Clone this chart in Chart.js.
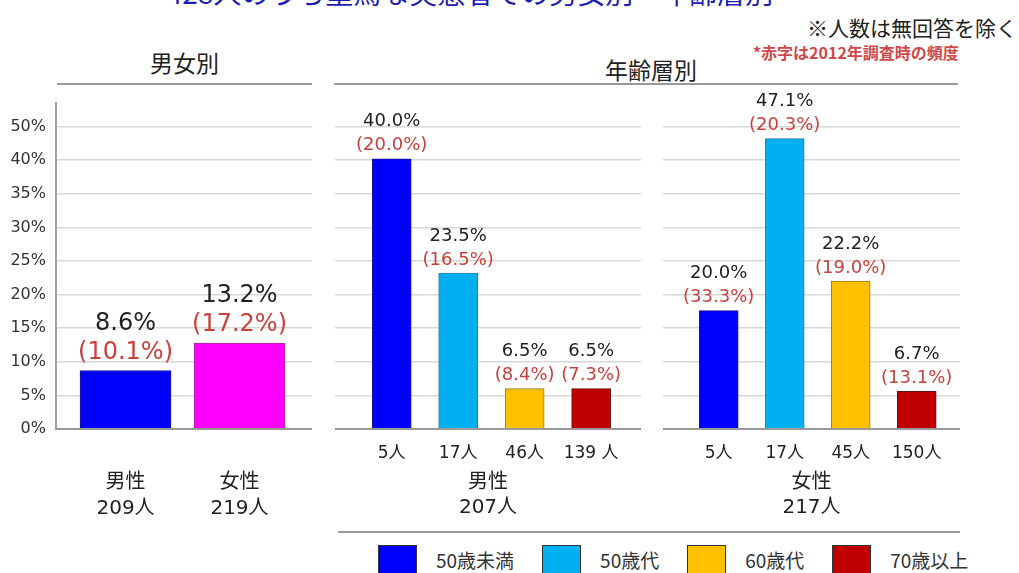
<!DOCTYPE html>
<html lang="ja">
<head>
<meta charset="utf-8">
<script src="https://cdn.jsdelivr.net/npm/chart.js"></script>
<style>
html, body { margin:0; padding:0; background:#fff; }
#page { position:relative; width:1019px; height:573px; overflow:hidden; font-family:"DejaVu Sans","Noto Sans CJK JP",sans-serif; color:#222; }
.t { position:absolute; white-space:nowrap; font-family:"Noto Sans CJK JP",sans-serif; }
.rule { position:absolute; height:2px; background:#9a9a9a; }
canvas { position:absolute; }
#legend { position:absolute; left:378px; top:545px; display:flex; align-items:flex-start; }
#legend .sw { width:37px; height:30px; border:1px solid #333; }
#legend .lb { margin-left:19px; margin-right:28px; margin-top:2px; font-size:19px; line-height:26px; color:#333; font-family:"Noto Sans CJK JP",sans-serif; }
</style>
</head>
<body>
<div id="page">
  <div class="t" style="left:150px; width:640px; text-align:center; top:-23px; font-size:28px; line-height:30px; color:#1c1cb4;">428人のうち重篤な実態者での男女別・年齢層別</div>
  <div class="t" style="right:2px; top:13px; font-size:21px; line-height:28px; color:#222;">※人数は無回答を除く</div>
  <div class="t" style="left:753px; top:42px; font-size:16px; line-height:20px; font-weight:bold; color:#d04848;">*赤字は2012年調査時の頻度</div>

  <div class="t" style="left:57px; width:255px; text-align:center; top:47px; font-size:23px; line-height:30px;">男女別</div>
  <div class="t" style="left:334px; width:634px; text-align:center; top:54px; font-size:23px; line-height:30px;">年齢層別</div>
  <div class="rule" style="left:57px; width:255px; top:83px;"></div>
  <div class="rule" style="left:334px; width:624px; top:83px;"></div>
  <div class="rule" style="left:338px; width:622px; top:531px;"></div>

  <canvas id="chartSex" width="312" height="446" style="left:0px; top:83px;"></canvas>
  <canvas id="chartMale" width="306" height="446" style="left:335px; top:83px;"></canvas>
  <canvas id="chartFemale" width="297" height="446" style="left:663px; top:83px;"></canvas>

  <div id="legend"></div>
</div>

<script>
// y-axis: the top label in the original reads 50% although it sits on the 45% line
const yTicks = [0, 5, 10, 15, 20, 25, 30, 35, 40, 45];
const yTickLabels = ['0%', '5%', '10%', '15%', '20%', '25%', '30%', '35%', '40%', '50%'];

// 男女別
const sexCats = [['男性', '209人'], ['女性', '219人']];
const sexBars = [8.7, 12.8];          // bar heights as drawn
const sexNow = [8.6, 13.2];           // printed values
const sexPast = [10.1, 17.2];         // 2012 values (red)

// 年齢層別
const ageGroups = ['50歳未満', '50歳代', '60歳代', '70歳以上'];
const ageColors = ['#0000ff', '#00b0f0', '#ffc000', '#c00000'];
const ageBorders = ['#1a1a8c', '#2a7fa8', '#9a7a20', '#601010'];

const maleCats = ['5人', '17人', '46人', '139 人'];
const maleBars = [40.2, 23.2, 6.0, 6.0];
const maleNow = [40.0, 23.5, 6.5, 6.5];
const malePast = [20.0, 16.5, 8.4, 7.3];

const femaleCats = ['5人', '17人', '45人', '150人'];
const femaleBars = [17.6, 43.2, 22.0, 5.6];   // the source draws these shorter than printed
const femaleNow = [20.0, 47.1, 22.2, 6.7];
const femalePast = [33.3, 20.3, 19.0, 13.1];

// labels above each bar: value and (2012 value)
const barLabels = {
  id: 'barLabels',
  afterDatasetsDraw(chart, args, o) {
    const ctx = chart.ctx;
    const meta = chart.getDatasetMeta(0);
    ctx.save();
    ctx.font = o.size + 'px "DejaVu Sans", "Noto Sans CJK JP"';
    ctx.textAlign = 'center';
    ctx.textBaseline = 'middle';
    meta.data.forEach(function(bar, i) {
      ctx.fillStyle = '#222';
      ctx.fillText(o.now[i].toFixed(1) + '%', bar.x, bar.y - o.upper);
      ctx.fillStyle = '#c8413c';
      ctx.fillText('(' + o.past[i].toFixed(1) + '%)', bar.x, bar.y - o.lower);
    });
    ctx.restore();
  }
};

function createChart(id, p) {
  const xs = p.bars.map((v, i) => i + 1);
  const config = {
    type: 'bar',
    data: {
      datasets: [{
        data: p.bars.map((v, i) => ({ x: xs[i], y: v })),
        backgroundColor: p.colors,
        borderColor: p.borders,
        borderWidth: 1,
        barThickness: p.thickness
      }]
    },
    options: {
      responsive: false,
      animation: false,
      layout: { padding: { top: 20, left: 0, right: 0, bottom: 0 } },
      scales: {
        x: {
          type: 'linear',
          min: p.xMin,
          max: p.xMax,
          offset: false,
          afterBuildTicks: function(s) { s.ticks = xs.map(v => ({ value: v })); },
          afterFit: function(s) { s.height = 100; },
          grid: { display: false, drawTicks: false, offset: false },
          border: { display: true, color: '#9a9a9a', width: 2 },
          ticks: {
            autoSkip: false,
            maxRotation: 0,
            padding: p.tickPadding,
            color: '#222',
            font: { family: '"DejaVu Sans", "Noto Sans CJK JP"', size: p.tickSize, lineHeight: 1.3 },
            callback: function(v, i) { return p.cats[i]; }
          },
          title: {
            display: !!p.title,
            text: p.title,
            color: '#222',
            font: { family: '"DejaVu Sans", "Noto Sans CJK JP"', size: 20, lineHeight: 1.25 },
            padding: { top: 0, bottom: 8.5 }
          }
        },
        y: {
          min: 0,
          max: 48.5,
          afterBuildTicks: function(s) { s.ticks = yTicks.map(v => ({ value: v })); },
          afterFit: function(s) { s.width = p.showY ? 56 : 0; },
          grid: {
            drawTicks: false,
            color: c => (c.tick && c.tick.value === 0) ? '#9a9a9a' : '#d9d9d9',
            lineWidth: c => (c.tick && c.tick.value === 0) ? 2 : 1.5
          },
          border: { display: p.showY, color: '#a0a0a0', width: 2 },
          ticks: {
            display: p.showY,
            padding: 10,
            color: '#333',
            font: { family: '"DejaVu Sans"', size: 16 },
            callback: function(v, i) { return yTickLabels[i]; }
          }
        }
      },
      plugins: {
        legend: { display: false },
        tooltip: { enabled: false },
        barLabels: { now: p.now, past: p.past, size: p.labelSize, upper: p.upper, lower: p.lower }
      }
    },
    plugins: [barLabels]
  };
  return new Chart(document.getElementById(id), config);
}

createChart('chartSex', {
  bars: sexBars, now: sexNow, past: sexPast, cats: sexCats,
  colors: ['#0000ff', '#ff00ff'], borders: ['#1a1a8c', '#a030a0'],
  thickness: 91, xMin: 0.39, xMax: 2.636, showY: true,
  tickSize: 20, tickPadding: 41, title: '',
  labelSize: 24, upper: 47, lower: 18
});

createChart('chartMale', {
  bars: maleBars, now: maleNow, past: malePast, cats: maleCats,
  colors: ageColors, borders: ageBorders,
  thickness: 39, xMin: 0.147, xMax: 4.75, showY: false,
  tickSize: 17, tickPadding: 14, title: ['男性', '207人'],
  labelSize: 18, upper: 37, lower: 13
});

createChart('chartFemale', {
  bars: femaleBars, now: femaleNow, past: femalePast, cats: femaleCats,
  colors: ageColors, borders: ageBorders,
  thickness: 39, xMin: 0.156, xMax: 4.656, showY: false,
  tickSize: 17, tickPadding: 14, title: ['女性', '217人'],
  labelSize: 18, upper: 37, lower: 13
});

// legend for the age groups
const legend = document.getElementById('legend');
ageGroups.forEach(function(name, i) {
  const sw = document.createElement('div');
  sw.className = 'sw';
  sw.style.background = ageColors[i];
  const lb = document.createElement('div');
  lb.className = 'lb';
  lb.textContent = name;
  legend.appendChild(sw);
  legend.appendChild(lb);
});
</script>
</body>
</html>
